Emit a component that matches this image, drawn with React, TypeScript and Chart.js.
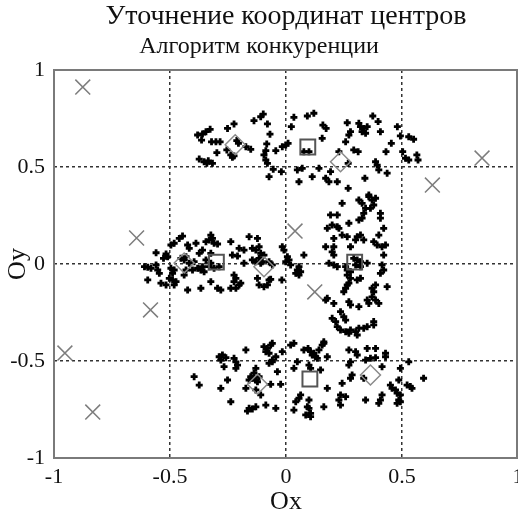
import React, { useEffect, useRef } from "react";
import { Chart, registerables } from "chart.js";

Chart.register(...registerables);

const titleLine1 = "Уточнение координат центров";
const titleLine2 = "Алгоритм конкуренции";
const xLabel = "Ox";
const yLabel = "Oy";
const tickValues = [-1, -0.5, 0, 0.5, 1];

// data points ("+"), grouped by cluster, [x, y]
const topCluster: number[][] = [
  [-0.381, 0.665], [-0.36, 0.67], [-0.345, 0.682], [-0.327, 0.694], [-0.364, 0.639],
  [-0.321, 0.63], [-0.302, 0.63], [-0.284, 0.63], [-0.298, 0.574], [-0.374, 0.541],
  [-0.353, 0.527], [-0.335, 0.532], [-0.317, 0.519], [-0.341, 0.519], [-0.252, 0.699],
  [-0.224, 0.722], [-0.212, 0.636], [-0.205, 0.622], [-0.255, 0.588], [-0.238, 0.562],
  [-0.231, 0.55], [-0.224, 0.557], [-0.173, 0.605], [-0.152, 0.591], [-0.138, 0.739],
  [-0.109, 0.759], [-0.098, 0.773], [-0.08, 0.722], [-0.069, 0.669], [-0.083, 0.619],
  [-0.087, 0.584], [-0.095, 0.562], [-0.087, 0.536], [-0.08, 0.519], [-0.044, 0.584],
  [-0.055, 0.488], [-0.073, 0.45], [-0.016, 0.605], [-0.001, 0.613], [0.009, 0.622],
  [-0.02, 0.476], [0.023, 0.708], [0.034, 0.756], [0.049, 0.485], [0.056, 0.424],
  [0.092, 0.763], [0.12, 0.777], [0.159, 0.716], [0.173, 0.699], [0.156, 0.648],
  [0.077, 0.579], [0.099, 0.579], [0.264, 0.728], [0.278, 0.682], [0.271, 0.665],
  [0.257, 0.63], [0.228, 0.579], [0.292, 0.588], [0.311, 0.579], [0.268, 0.519],
  [0.314, 0.725], [0.321, 0.708], [0.335, 0.699], [0.35, 0.708], [0.328, 0.682],
  [0.343, 0.674], [0.374, 0.763], [0.397, 0.734], [0.407, 0.682], [0.386, 0.527],
  [0.393, 0.51], [0.4, 0.485], [0.436, 0.468], [0.431, 0.579], [0.454, 0.622],
  [0.48, 0.708], [0.493, 0.66], [0.529, 0.656], [0.55, 0.643], [0.503, 0.579],
  [0.515, 0.545], [0.529, 0.536], [0.564, 0.562], [0.569, 0.536], [0.192, 0.476],
  [0.171, 0.442], [0.185, 0.424], [0.221, 0.424], [0.142, 0.493], [0.113, 0.45],
  [0.07, 0.493], [0.34, 0.442], [0.268, 0.39], [0.357, 0.356],
];

const rightCluster: number[][] = [
  [0.242, 0.313], [0.314, 0.33], [0.328, 0.313], [0.357, 0.347], [0.371, 0.33],
  [0.386, 0.339], [0.378, 0.304], [0.364, 0.287], [0.343, 0.287], [0.335, 0.261],
  [0.328, 0.236], [0.314, 0.227], [0.407, 0.261], [0.407, 0.236], [0.192, 0.253],
  [0.221, 0.253], [0.178, 0.184], [0.199, 0.201], [0.221, 0.192], [0.228, 0.184],
  [0.271, 0.21], [0.242, 0.149], [0.264, 0.141], [0.307, 0.141], [0.321, 0.149],
  [0.335, 0.124], [0.3, 0.124], [0.421, 0.184], [0.4, 0.149], [0.378, 0.115],
  [0.393, 0.098], [0.414, 0.089], [0.429, 0.098], [0.421, 0.046], [0.206, 0.132],
  [0.206, 0.089], [0.199, 0.063], [0.206, 0.046], [0.171, 0.089], [0.278, 0.089],
  [0.185, 0.004], [0.206, -0.005], [0.221, -0.014], [0.257, -0.014], [0.264, -0.031],
  [0.278, -0.04], [0.292, 0.029], [0.307, 0.021], [0.321, 0.012], [0.3, -0.005],
  [0.321, -0.014], [0.35, 0.004], [0.414, -0.005], [0.421, -0.031], [0.407, -0.048],
  [0.264, -0.057], [0.278, -0.074], [0.271, -0.099], [0.307, -0.082], [0.321, -0.074],
  [0.264, -0.108], [0.257, -0.125], [0.249, -0.143], [0.386, -0.108], [0.371, -0.125],
  [0.378, -0.143], [0.371, -0.169], [0.386, -0.186], [0.4, -0.203], [0.436, -0.117],
  [0.178, -0.177], [0.206, -0.203], [0.271, -0.194], [0.278, -0.211], [0.314, -0.22],
  [0.35, -0.186], [0.357, -0.203], [0.235, -0.246], [0.249, -0.272], [0.199, -0.28],
  [0.214, -0.297], [0.257, -0.289], [0.221, -0.323], [0.235, -0.34], [0.257, -0.349],
  [0.278, -0.34], [0.3, -0.349], [0.314, -0.331], [0.335, -0.331], [0.35, -0.323],
  [0.378, -0.297], [0.378, -0.314], [0.271, -0.357], [0.307, -0.366], [0.163, -0.401],
];

const leftCluster: number[][] = [
  [-0.446, 0.144], [-0.46, 0.132], [-0.482, 0.107], [-0.496, 0.098], [-0.424, 0.098],
  [-0.417, 0.081], [-0.388, 0.107], [-0.324, 0.149], [-0.317, 0.132], [-0.331, 0.124],
  [-0.345, 0.115], [-0.31, 0.107], [-0.295, 0.103], [-0.56, 0.058], [-0.517, 0.052],
  [-0.51, 0.038], [-0.528, 0.029], [-0.61, -0.014], [-0.596, -0.017], [-0.582, -0.022],
  [-0.56, -0.005], [-0.553, -0.031], [-0.546, -0.048], [-0.596, -0.082], [-0.539, -0.099],
  [-0.517, -0.108], [-0.503, -0.074], [-0.489, -0.082], [-0.474, -0.091], [-0.482, -0.108],
  [-0.496, -0.022], [-0.482, -0.031], [-0.489, -0.048], [-0.453, 0.029], [-0.439, 0.021],
  [-0.431, 0.038], [-0.431, -0.031], [-0.439, -0.057], [-0.417, 0.004], [-0.396, 0.012],
  [-0.403, -0.031], [-0.381, -0.022], [-0.367, -0.031], [-0.36, -0.014], [-0.353, -0.04],
  [-0.331, -0.014], [-0.31, -0.022], [-0.288, -0.014], [-0.324, 0.004], [-0.345, 0.021],
  [-0.374, 0.055], [-0.36, 0.072], [-0.324, 0.055], [-0.324, -0.091], [-0.424, -0.134],
  [-0.367, -0.125], [-0.295, -0.125], [-0.281, -0.134], [-0.238, -0.125], [-0.231, 0.046],
  [-0.238, 0.115], [-0.159, 0.141], [-0.123, 0.132], [-0.202, 0.081], [-0.181, 0.072],
  [-0.209, 0.041], [-0.145, 0.081], [-0.13, 0.072], [-0.116, 0.089], [-0.109, 0.055],
  [-0.095, 0.046], [-0.145, 0.021], [-0.13, 0.012], [-0.116, 0.029], [-0.109, 0.004],
  [-0.102, 0.012], [-0.073, 0.012], [-0.059, -0.005], [-0.181, 0.004], [-0.224, -0.057],
  [-0.216, -0.074], [-0.224, -0.091], [-0.216, -0.125], [-0.202, -0.108], [-0.195, -0.099],
  [-0.123, -0.074], [-0.116, -0.108], [-0.095, -0.117], [-0.08, -0.108], [-0.073, -0.082],
  [-0.066, -0.079], [-0.016, 0.089], [-0.009, 0.072], [0.006, 0.038], [-0.001, 0.012],
  [0.013, 0.021], [0.02, -0.005], [-0.018, -0.082], [0.077, 0.046], [0.056, -0.014],
  [0.049, -0.031], [0.063, -0.04], [0.042, -0.048], [0.056, -0.057], [0.171, -0.186],
];

const bottomCluster: number[][] = [
  [-0.173, -0.443], [-0.095, -0.426], [-0.08, -0.435], [-0.066, -0.418], [-0.087, -0.452],
  [-0.073, -0.46], [-0.059, -0.409], [-0.016, -0.452], [-0.044, -0.478], [-0.059, -0.495],
  [0.02, -0.418], [0.034, -0.409], [0.077, -0.443], [0.095, -0.435], [-0.288, -0.478],
  [-0.274, -0.469], [-0.259, -0.483], [-0.281, -0.495], [-0.224, -0.486], [-0.216, -0.504],
  [-0.209, -0.521], [-0.216, -0.538], [-0.267, -0.529], [-0.073, -0.512], [-0.059, -0.504],
  [0.049, -0.504], [-0.13, -0.538], [-0.138, -0.563], [-0.152, -0.581], [-0.145, -0.589],
  [-0.159, -0.598], [-0.13, -0.598], [-0.116, -0.581], [-0.123, -0.607], [-0.037, -0.555],
  [0.034, -0.538], [-0.396, -0.581], [-0.374, -0.624], [-0.252, -0.598], [-0.281, -0.641],
  [-0.173, -0.641], [-0.13, -0.649], [-0.066, -0.62], [-0.023, -0.62], [-0.109, -0.675],
  [-0.238, -0.71], [-0.087, -0.727], [-0.159, -0.744], [-0.145, -0.747], [-0.13, -0.736],
  [-0.166, -0.758], [-0.044, -0.744], [0.042, -0.71], [0.056, -0.692], [0.063, -0.675],
  [0.034, -0.753], [0.092, -0.736], [0.085, -0.778], [0.106, -0.452], [0.12, -0.46],
  [0.128, -0.478], [0.142, -0.443], [0.156, -0.418], [0.163, -0.409], [0.135, -0.486],
  [0.113, -0.469], [0.178, -0.478], [0.099, -0.521], [0.106, -0.538], [0.149, -0.546],
  [0.271, -0.443], [0.3, -0.452], [0.307, -0.469], [0.278, -0.504], [0.271, -0.521],
  [0.35, -0.435], [0.386, -0.435], [0.343, -0.495], [0.364, -0.486], [0.386, -0.483],
  [0.429, -0.46], [0.429, -0.478], [0.414, -0.529], [0.493, -0.538], [0.529, -0.504],
  [0.285, -0.572], [0.278, -0.589], [0.335, -0.589], [0.242, -0.615], [0.178, -0.641],
  [0.593, -0.589], [0.486, -0.598], [0.45, -0.624], [0.457, -0.641], [0.472, -0.649],
  [0.522, -0.624], [0.536, -0.632], [0.543, -0.641], [0.479, -0.666], [0.493, -0.675],
  [0.486, -0.701], [0.479, -0.718], [0.493, -0.71], [0.414, -0.675], [0.407, -0.701],
  [0.4, -0.718], [0.235, -0.675], [0.257, -0.684], [0.228, -0.701], [0.235, -0.727],
  [0.343, -0.701], [0.099, -0.701], [0.099, -0.744], [0.106, -0.77], [0.106, -0.787],
  [0.163, -0.736],
];

// initial centres (gray X)
const initialCenters: number[][] = [
  [-0.876, 0.912], [0.845, 0.546], [0.631, 0.407], [-0.644, 0.134], [0.039, 0.17],
  [-0.584, -0.237], [0.124, -0.144], [-0.953, -0.459], [-0.833, -0.763],
];
// winning centres (squares)
const squareCenters: number[][] = [
  [0.094, 0.603], [-0.3, 0.01], [0.296, 0.01], [0.103, -0.593],
];
// other refined centres (diamonds)
const diamondCenters: number[][] = [
  [-0.219, 0.615], [0.235, 0.527], [-0.439, 0.005], [-0.095, -0.014], [-0.123, -0.62], [0.364, -0.572],
];

const SERIF = "'Liberation Serif', 'DejaVu Serif', serif";

const toXY = (arr: number[][]) => arr.map(([x, y]) => ({ x, y }));

const boxPlugin = {
  id: "boxPlugin",
  beforeDatasetsDraw(chart: any) {
    const { ctx, chartArea } = chart;
    ctx.save();
    ctx.strokeStyle = "#7a7a7a";
    ctx.lineWidth = 2;
    ctx.strokeRect(chartArea.left, chartArea.top, chartArea.right - chartArea.left - 1, chartArea.bottom - chartArea.top);
    ctx.restore();
  },
};

export default function App() {
  const ref = useRef<HTMLCanvasElement | null>(null);

  useEffect(() => {
    document.body.style.margin = "0";
    const canvas = ref.current;
    if (!canvas) return;
    const allPoints = [...topCluster, ...rightCluster, ...leftCluster, ...bottomCluster];

    const gridColor = (c: any) => (Math.abs(c.tick.value) === 1 ? "rgba(0,0,0,0)" : "#333333");

    const chart = new Chart(canvas, {
      type: "scatter",
      data: {
        datasets: [
          {
            label: "data",
            data: toXY(allPoints),
            pointStyle: "cross",
            pointRadius: 3.5,
            borderColor: "#000000",
            backgroundColor: "#000000",
            borderWidth: 2.8,
            order: 10,
          },
          {
            label: "initial",
            data: toXY(initialCenters),
            pointStyle: "crossRot",
            pointRadius: 10.5,
            borderColor: "#7d7d7d",
            borderWidth: 1.5,
            order: 3,
          },
          {
            label: "diamonds",
            data: toXY(diamondCenters),
            pointStyle: "rectRot",
            pointRadius: 10,
            borderColor: "#8a8a8a",
            backgroundColor: "rgba(0,0,0,0)",
            borderWidth: 1.5,
            order: 2,
          },
          {
            label: "squares",
            data: toXY(squareCenters),
            pointStyle: "rect",
            pointRadius: 10.5,
            borderColor: "#555555",
            backgroundColor: "rgba(0,0,0,0)",
            borderWidth: 2,
            order: 1,
          },
        ] as any,
      },
      options: {
        animation: false,
        responsive: false,
        devicePixelRatio: 1,
        layout: { padding: 0, autoPadding: false },
        plugins: {
          legend: { display: false },
          tooltip: { enabled: false },
          title: {
            display: true,
            text: titleLine1,
            fullSize: false,
            color: "#111111",
            font: { family: SERIF, size: 28, weight: "normal", lineHeight: 1 },
            padding: { top: 3, bottom: 0 },
          },
          subtitle: {
            display: true,
            text: titleLine2,
            fullSize: true,
            color: "#111111",
            font: { family: SERIF, size: 24, weight: "normal", lineHeight: 1 },
            padding: { top: 4, bottom: 11 },
          },
        },
        scales: {
          x: {
            type: "linear",
            min: -1,
            max: 1,
            afterBuildTicks: (s: any) => {
              s.ticks = tickValues.map((v) => ({ value: v }));
            },
            afterFit: (s: any) => {
              s.height = 54;
              s.paddingLeft = 0;
              s.paddingRight = 0;
            },
            ticks: {
              color: "#111111",
              font: { family: SERIF, size: 22 },
              padding: 6,
              maxRotation: 0,
              autoSkip: false,
              callback: (v: any) => String(v),
            },
            grid: { color: gridColor, lineWidth: 1.5, drawTicks: false },
            border: { display: false, dash: [3, 3] },
            title: {
              display: true,
              text: xLabel,
              color: "#111111",
              font: { family: SERIF, size: 26, lineHeight: 1 },
              padding: { top: 0, bottom: -3 },
            },
          },
          y: {
            type: "linear",
            min: -1,
            max: 1,
            afterBuildTicks: (s: any) => {
              s.ticks = tickValues.map((v) => ({ value: v }));
            },
            afterFit: (s: any) => {
              s.width = 54;
              s.paddingTop = 0;
              s.paddingBottom = 0;
            },
            ticks: {
              color: "#111111",
              font: { family: SERIF, size: 22 },
              padding: 9,
              autoSkip: false,
              callback: (v: any) => String(v),
            },
            grid: { color: gridColor, lineWidth: 1.5, drawTicks: false },
            border: { display: false, dash: [3, 3] },
            title: {
              display: true,
              text: yLabel,
              color: "#111111",
              font: { family: SERIF, size: 26, lineHeight: 1 },
              padding: { top: 5, bottom: 0 },
            },
          },
        },
      } as any,
      plugins: [boxPlugin],
    });
    return () => chart.destroy();
  }, []);

  return (
    <div style={{ position: "fixed", left: 0, top: 0, width: 518, height: 512, background: "#ffffff" }}>
      <canvas ref={ref} width={518} height={512} style={{ width: 518, height: 512, display: "block" }} />
    </div>
  );
}
